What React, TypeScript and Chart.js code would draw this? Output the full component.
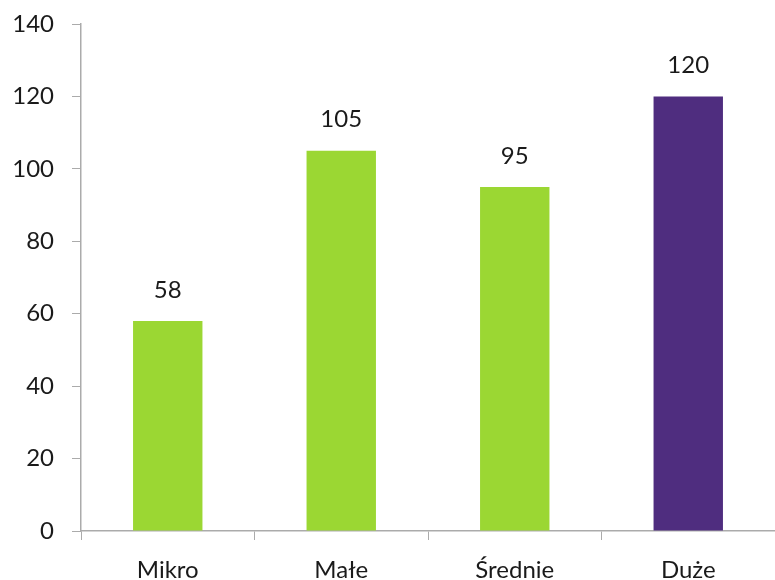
import React, { useEffect, useRef } from "react";
import { Chart, registerables } from "chart.js";

Chart.register(...registerables);

const categories = ["Mikro", "Małe", "Średnie", "Duże"];
const values = [58, 105, 95, 120];
const barColors = ["#9BD733", "#9BD733", "#9BD733", "#4F2D7F"];
const yTicksMax = 140;
const yTicksStep = 20;

const FONT = "Lato, sans-serif";
const AXIS = "#ababab";
const TEXT = "#1a1a1a";

const valueLabels = {
  id: "valueLabels",
  afterDatasetsDraw(chart: any) {
    const ctx = chart.ctx;
    const meta = chart.getDatasetMeta(0);
    ctx.save();
    ctx.font = `24px ${FONT}`;
    ctx.fillStyle = TEXT;
    ctx.textAlign = "center";
    ctx.textBaseline = "middle";
    meta.data.forEach((bar: any, i: number) => {
      ctx.fillText(String(values[i]), bar.x, bar.y - 31);
    });
    ctx.restore();
  },
};

export default function App() {
  const ref = useRef<HTMLCanvasElement | null>(null);
  useEffect(() => {
    document.body.style.margin = "0";
    const chart = new Chart(ref.current as HTMLCanvasElement, {
      type: "bar",
      data: {
        labels: categories,
        datasets: [
          {
            data: values,
            backgroundColor: barColors,
            categoryPercentage: 1,
            barPercentage: 0.4,
          },
        ],
      },
      options: {
        animation: false,
        responsive: false,
        layout: { padding: { top: 24, right: 0, left: 0, bottom: 0 } },
        plugins: { legend: { display: false }, tooltip: { enabled: false } },
        scales: {
          x: {
            grid: {
              display: true,
              drawOnChartArea: false,
              drawTicks: true,
              tickLength: 9,
              color: AXIS,
              offset: true,
            },
            border: { display: true, color: AXIS, width: 1.5 },
            ticks: {
              color: TEXT,
              font: { family: FONT, size: 24 },
              padding: 16,
            },
            afterFit(scale: any) {
              scale.height = 49;
              scale.paddingLeft = 0;
              scale.paddingRight = 0;
            },
          },
          y: {
            min: 0,
            max: yTicksMax,
            grid: {
              display: true,
              drawOnChartArea: false,
              drawTicks: true,
              tickLength: 9,
              color: AXIS,
            },
            border: { display: true, color: AXIS, width: 1.5 },
            ticks: {
              stepSize: yTicksStep,
              color: TEXT,
              font: { family: FONT, size: 24 },
              padding: 18,
            },
            afterFit(scale: any) {
              scale.width = 81;
              scale.paddingTop = 0;
              scale.paddingBottom = 0;
            },
          },
        },
      },
      plugins: [valueLabels],
    });
    return () => chart.destroy();
  }, []);
  return (
    <div style={{ width: 775, height: 580 }}>
      <canvas ref={ref} width={775} height={580} style={{ display: "block" }} />
    </div>
  );
}
